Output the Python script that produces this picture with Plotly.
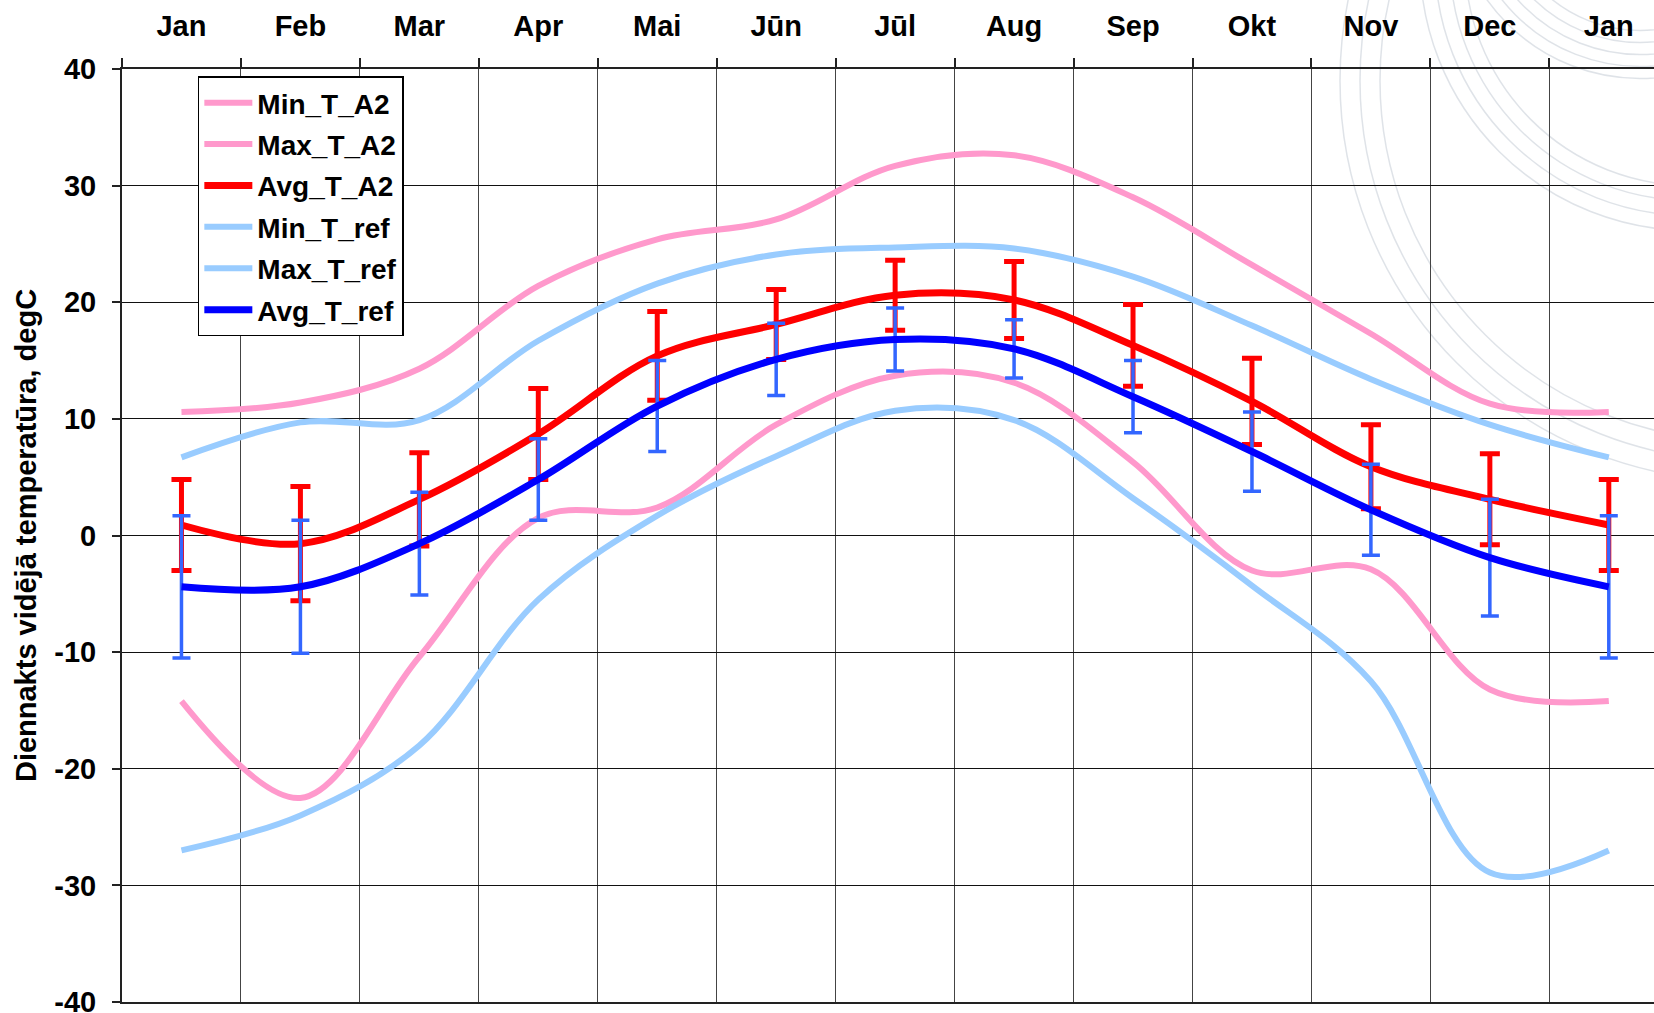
import plotly.graph_objects as go

months = ["Jan", "Feb", "Mar", "Apr", "Mai", "Jūn", "Jūl", "Aug", "Sep", "Okt", "Nov", "Dec", "Jan"]

min_t_a2 = [-14.2, -22.5, -10.4, 1.5, 2.4, 9.5, 13.7, 13.1, 6.3, -3.0, -2.9, -13.2, -14.2]
max_t_a2 = [10.6, 11.4, 14.3, 21.4, 25.4, 27.1, 31.7, 32.6, 29.0, 23.2, 17.3, 11.3, 10.6]
avg_t_a2 = [0.9, -0.7, 3.1, 8.7, 15.4, 18.1, 20.6, 20.2, 16.3, 11.5, 5.9, 3.1, 0.9]
err_t_a2 = [3.9, 4.9, 4.0, 3.9, 3.8, 3.0, 3.0, 3.3, 3.5, 3.7, 3.6, 3.9, 3.9]

min_t_ref = [-27.0, -24.0, -18.0, -5.5, 1.7, 6.8, 10.7, 9.9, 3.2, -4.3, -12.5, -28.9, -27.0]
max_t_ref = [6.7, 9.7, 9.9, 16.7, 21.6, 24.1, 24.7, 24.6, 22.2, 18.0, 13.4, 9.5, 6.7]
avg_t_ref = [-4.4, -4.4, -0.7, 4.8, 11.1, 15.1, 16.8, 16.0, 11.9, 7.2, 2.2, -1.9, -4.4]
err_t_ref = [6.1, 5.7, 4.4, 3.5, 3.9, 3.1, 2.7, 2.5, 3.1, 3.4, 3.9, 5.0, 6.1]

y_ticks = [-40, -30, -20, -10, 0, 10, 20, 30, 40]
y_tick_text = ["-40", "-30", "-20", "-10", "0", "10", "20", "30", "40"]

PINK = "#FF99CC"
RED = "#FF0000"
LBLUE = "#99CCFF"
BLUE = "#0000FF"
ERRBLUE = "#3366FF"
FONT = "Liberation Sans, Arial, sans-serif"

xs = list(range(len(months)))

series = [
    ("Min_T_A2", min_t_a2, PINK, 6, None, None),
    ("Max_T_A2", max_t_a2, PINK, 6, None, None),
    ("Avg_T_A2", avg_t_a2, RED, 7, err_t_a2, dict(color=RED, thickness=5, width=10)),
    ("Min_T_ref", min_t_ref, LBLUE, 6, None, None),
    ("Max_T_ref", max_t_ref, LBLUE, 6, None, None),
    ("Avg_T_ref", avg_t_ref, BLUE, 7, err_t_ref, dict(color=ERRBLUE, thickness=3.5, width=9)),
]

fig = go.Figure()
for name, vals, color, w, err, estyle in series:
    kw = {}
    if err is not None:
        kw["error_y"] = dict(type="data", array=err, visible=True, **estyle)
    fig.add_trace(go.Scatter(
        x=xs, y=vals, name=name, mode="lines",
        line=dict(color=color, width=w, shape="spline", smoothing=1.0),
        legendgroup=name,
        **kw,
    ))

# faint decorative ripple watermark (top right)
shapes = []
ripples = [
    (1640, -110, [140, 152, 164, 176, 188]),
    (1690, -40, [225, 240, 255, 270]),
    (1740, 80, [360, 380, 400]),
]
for cx, cy, radii in ripples:
    for r in radii:
        shapes.append(dict(
            type="circle", xref="paper", yref="paper",
            xsizemode="pixel", ysizemode="pixel",
            xanchor=1.0, yanchor=1.0,
            x0=cx - 1654 - r, x1=cx - 1654 + r,
            y0=-(cy - 68.5) - r, y1=-(cy - 68.5) + r,
            line=dict(color="rgba(185,192,205,0.45)", width=1.5),
            layer="below",
        ))

fig.update_layout(
    width=1654, height=1013,
    margin=dict(l=122, r=0, t=69, b=11),
    paper_bgcolor="white", plot_bgcolor="rgba(0,0,0,0)",
    font=dict(family=FONT, size=29, color="black", weight="bold"),
    showlegend=True,
    legend=dict(
        x=0.0495, y=0.992, xanchor="left", yanchor="top",
        bgcolor="white", bordercolor="black", borderwidth=1.5,
        font=dict(family=FONT, size=28, color="black", weight="bold"),
        tracegroupgap=2, traceorder="grouped", itemwidth=48,
    ),
    shapes=shapes,
)

fig.update_xaxes(
    range=[-0.5, 12.38], side="top", automargin=False,
    tickmode="array", tickvals=xs, ticktext=months,
    ticks="", showgrid=False, zeroline=False,
    tickfont=dict(family=FONT, size=29, color="black", weight="bold"),
    ticklabelstandoff=19,
    showline=True, linecolor="#222", linewidth=2, mirror=True,
    minor=dict(tickvals=[i - 0.5 for i in range(14)], ticks="outside", ticklen=9,
               tickcolor="#222", tickwidth=1.5, showgrid=True, gridcolor="#444", gridwidth=1.2),
)
fig.update_yaxes(
    range=[-40, 40], tickmode="array", tickvals=y_ticks, ticktext=y_tick_text,
    automargin=False, ticklabeloverflow="allow",
    ticks="outside", ticklen=8, tickcolor="#222", tickwidth=1.5,
    showgrid=True, gridcolor="#111", gridwidth=1.2, zeroline=False,
    showline=True, linecolor="#222", linewidth=2,
    tickfont=dict(family=FONT, size=29, color="black", weight="bold"),
    ticklabelstandoff=10,
    title=dict(text="Diennakts vidējā temperatūra, degC", standoff=9,
               font=dict(family=FONT, size=29, color="black", weight="bold")),
)

fig.write_html("out.html", config={"displayModeBar": False},
               post_script="document.body.style.margin='0px';")
